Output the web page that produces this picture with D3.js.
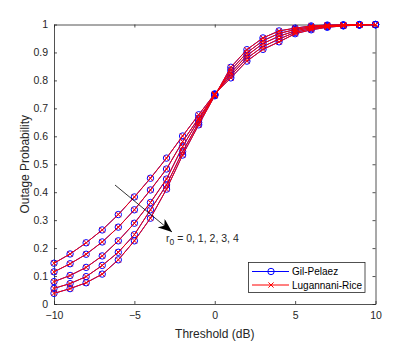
<!DOCTYPE html>
<html>
<head>
<meta charset="utf-8">
<script src="https://cdn.jsdelivr.net/npm/d3@7"></script>
<style>
  body { margin: 0; background: #fff; }
  text { font-family: "Liberation Sans", Arial, sans-serif; fill: #262626; }
</style>
</head>
<body>
<div id="chart"></div>
<script>
// threshold values (dB)
var thresholds = d3.range(-10, 11, 1);

// outage probability, one row per r0 = 0..4 (both methods give the same values)
var r0_0 = [0.146, 0.179, 0.219, 0.265, 0.320, 0.383, 0.450, 0.522, 0.601, 0.677, 0.752, 0.809, 0.869, 0.911, 0.938, 0.967, 0.981, 0.990, 0.995, 0.998, 0.999];
var r0_1 = [0.115, 0.144, 0.178, 0.222, 0.275, 0.337, 0.408, 0.483, 0.581, 0.665, 0.750, 0.818, 0.879, 0.921, 0.948, 0.972, 0.985, 0.992, 0.996, 0.998, 0.999];
var r0_2 = [0.080, 0.102, 0.131, 0.172, 0.226, 0.289, 0.363, 0.447, 0.563, 0.659, 0.749, 0.827, 0.889, 0.932, 0.958, 0.977, 0.989, 0.994, 0.997, 0.999, 1.000];
var r0_3 = [0.056, 0.073, 0.098, 0.138, 0.185, 0.248, 0.337, 0.426, 0.545, 0.649, 0.747, 0.837, 0.899, 0.942, 0.968, 0.982, 0.992, 0.996, 0.998, 0.999, 1.000];
var r0_4 = [0.038, 0.055, 0.076, 0.107, 0.158, 0.226, 0.307, 0.411, 0.533, 0.641, 0.745, 0.847, 0.910, 0.952, 0.977, 0.987, 0.995, 0.998, 0.999, 1.000, 1.000];
var gil_pelaez = [r0_0, r0_1, r0_2, r0_3, r0_4];
var lugannani_rice = [r0_0, r0_1, r0_2, r0_3, r0_4];

var x_ticks = [-10, -5, 0, 5, 10];
var y_ticks = [0, 0.1, 0.2, 0.3, 0.4, 0.5, 0.6, 0.7, 0.8, 0.9, 1];
var legend_labels = ["Gil-Pelaez", "Lugannani-Rice"];
var annotation = {label: "r", sub: "0", rest: " = 0, 1, 2, 3, 4"};

var width = 415, height = 342;
var margin = {left: 54, right: 39.5, top: 24.5, bottom: 38};
var plot_w = width - margin.left - margin.right;
var plot_h = height - margin.top - margin.bottom;
var axis_color = "#262626";

var svg = d3.select("#chart").append("svg")
  .attr("width", width)
  .attr("height", height);

var x = d3.scaleLinear().domain([-10, 10]).range([margin.left, margin.left + plot_w]);
var y = d3.scaleLinear().domain([0, 1]).range([margin.top + plot_h, margin.top]);

// axes (inward ticks, box on)
var tick_len = 3;
var xAxis = svg.append("g")
  .attr("transform", "translate(0," + y(0) + ")")
  .call(d3.axisBottom(x).tickValues(x_ticks).tickSizeInner(-tick_len).tickSizeOuter(0).tickPadding(8));
var xAxisTop = svg.append("g")
  .attr("transform", "translate(0," + y(1) + ")")
  .call(d3.axisTop(x).tickValues(x_ticks).tickSizeInner(-tick_len).tickSizeOuter(0).tickFormat(""));
var yAxis = svg.append("g")
  .attr("transform", "translate(" + x(-10) + ",0)")
  .call(d3.axisLeft(y).tickValues(y_ticks).tickSizeInner(-tick_len).tickSizeOuter(0).tickPadding(6).tickFormat(d3.format("~g")));
var yAxisRight = svg.append("g")
  .attr("transform", "translate(" + x(10) + ",0)")
  .call(d3.axisRight(y).tickValues(y_ticks).tickSizeInner(-tick_len).tickSizeOuter(0).tickFormat(""));

[xAxis, xAxisTop, yAxis, yAxisRight].forEach(function(g){
  g.selectAll("path").attr("stroke", axis_color).attr("stroke-width", 0.8);
  g.selectAll("line").attr("stroke", axis_color).attr("stroke-width", 0.8);
  g.selectAll("text").attr("fill", axis_color).style("font-size", "10.5px")
    .style("font-family", "Liberation Sans, Arial, sans-serif");
});

// axis labels
svg.append("text")
  .attr("x", x(0))
  .attr("y", 338)
  .attr("text-anchor", "middle")
  .style("font-size", "12px")
  .text("Threshold (dB)");

svg.append("text")
  .attr("transform", "translate(" + 29 + "," + y(0.5) + ") rotate(-90)")
  .attr("text-anchor", "middle")
  .style("font-size", "12px")
  .text("Outage Probability");

var line = d3.line()
  .x(function(d, i){ return x(thresholds[i]); })
  .y(function(d){ return y(d); });

var plot = svg.append("g");

// Gil-Pelaez: blue, circles
gil_pelaez.forEach(function(series){
  plot.append("path")
    .datum(series)
    .attr("d", line)
    .attr("fill", "none")
    .attr("stroke", "#0000ff")
    .attr("stroke-width", 1);
  plot.selectAll(null)
    .data(series)
    .enter().append("circle")
    .attr("cx", function(d, i){ return x(thresholds[i]); })
    .attr("cy", function(d){ return y(d); })
    .attr("r", 3.2)
    .attr("fill", "none")
    .attr("stroke", "#0000ff")
    .attr("stroke-width", 1);
});

// Lugannani-Rice: red, crosses
var xs = 2.6;
function cross(g, cx, cy, color){
  g.append("path")
    .attr("d", "M" + (cx - xs) + "," + (cy - xs) + "L" + (cx + xs) + "," + (cy + xs) +
               "M" + (cx - xs) + "," + (cy + xs) + "L" + (cx + xs) + "," + (cy - xs))
    .attr("stroke", color)
    .attr("stroke-width", 1)
    .attr("fill", "none");
}
lugannani_rice.forEach(function(series){
  plot.append("path")
    .datum(series)
    .attr("d", line)
    .attr("fill", "none")
    .attr("stroke", "#ff0000")
    .attr("stroke-width", 1);
  series.forEach(function(d, i){
    cross(plot, x(thresholds[i]), y(d), "#ff0000");
  });
});

// arrow annotation
var defs = svg.append("defs");
defs.append("marker")
  .attr("id", "arrowhead")
  .attr("viewBox", "0 0 14 11")
  .attr("refX", 14)
  .attr("refY", 5.5)
  .attr("markerWidth", 14)
  .attr("markerHeight", 11)
  .attr("markerUnits", "userSpaceOnUse")
  .attr("orient", "auto")
  .append("path")
  .attr("d", "M0,0 L14,5.5 L0,11 L4,5.5 Z")
  .attr("fill", "#000");

svg.append("line")
  .attr("x1", 115).attr("y1", 185)
  .attr("x2", 172).attr("y2", 232)
  .attr("stroke", "#000")
  .attr("stroke-width", 0.8)
  .attr("marker-end", "url(#arrowhead)");

var ann = svg.append("text")
  .attr("x", 166)
  .attr("y", 242)
  .style("font-size", "10.5px");
ann.append("tspan").text(annotation.label);
ann.append("tspan").attr("dy", 3).style("font-size", "8.5px").text(annotation.sub);
ann.append("tspan").attr("dy", -3).text(annotation.rest);

// legend
var legend = svg.append("g");
legend.append("rect")
  .attr("x", 248.5).attr("y", 262.5)
  .attr("width", 116.5).attr("height", 30)
  .attr("fill", "#fff")
  .attr("stroke", axis_color)
  .attr("stroke-width", 0.8);

var leg_colors = ["#0000ff", "#ff0000"];
var leg_y = [271.5, 285];
legend_labels.forEach(function(lbl, i){
  legend.append("line")
    .attr("x1", 252).attr("x2", 289)
    .attr("y1", leg_y[i]).attr("y2", leg_y[i])
    .attr("stroke", leg_colors[i])
    .attr("stroke-width", 1);
  if(i === 0){
    legend.append("circle")
      .attr("cx", 271).attr("cy", leg_y[i]).attr("r", 3.2)
      .attr("fill", "none").attr("stroke", leg_colors[i]).attr("stroke-width", 1);
  }else{
    cross(legend, 271, leg_y[i], leg_colors[i]);
  }
  legend.append("text")
    .attr("x", 292)
    .attr("y", leg_y[i] + 3.5)
    .style("font-size", "10px")
    .style("fill", "#000")
    .text(lbl);
});
</script>
</body>
</html>
